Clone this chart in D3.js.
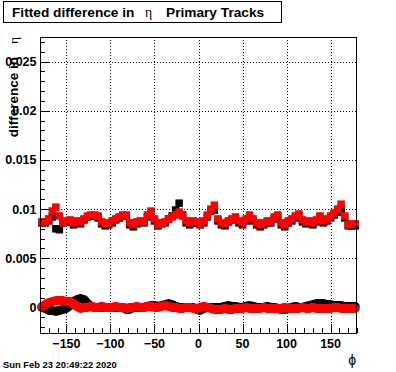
<!DOCTYPE html>
<html><head><meta charset="utf-8">
<script src="https://cdn.jsdelivr.net/npm/d3@7"></script>
<style>
body{margin:0;background:#fff;}
svg{display:block;}
text{font-family:"Liberation Sans",Arial,Helvetica,sans-serif;}
</style></head>
<body>
<script>
// ---- data ----
const xTicksMajor = [-150,-100,-50,0,50,100,150];
const xTickLabels = ["\u2212150","\u2212100","\u221250","0","50","100","150"];
const yTicksMajor = [0,0.005,0.01,0.015,0.02,0.025];
const yTickLabels = ["0","0.005","0.01","0.015","0.02","0.025"];
// bin centers (phi, degrees)
const phiBins = d3.range(90).map(i => -178 + 4*i);
// upper band (fitted difference), units of 1e-3
const redUpper = [8.7,8.7,9.0,9.8,10.2,9.3,8.6,8.8,8.9,8.6,8.8,8.7,9.0,9.3,9.4,9.4,9.3,8.7,8.5,8.6,
  8.8,9.0,9.2,9.4,9.4,8.6,8.4,8.7,8.8,8.7,9.4,9.8,9.0,8.4,8.6,8.7,9.0,9.2,9.4,9.7,
  9.3,8.8,8.6,8.8,8.7,8.5,8.8,9.4,10.0,10.4,9.0,8.6,8.5,8.8,9.0,9.2,8.8,8.6,9.0,9.4,
  9.0,8.6,8.4,8.6,8.8,8.7,9.2,9.4,8.6,8.4,8.8,9.0,9.3,9.5,8.9,8.7,8.8,8.6,8.9,9.3,
  8.8,9.0,9.3,9.6,10.0,10.5,9.3,8.4,8.5,8.5];
const blackUpper = [8.6,8.6,8.8,9.2,8.0,7.9,8.6,8.7,8.7,8.4,8.6,8.5,8.9,9.2,9.3,9.3,9.1,8.5,8.3,8.4,
  8.6,8.9,9.1,9.3,9.3,8.4,8.2,8.5,8.7,8.6,9.2,9.5,8.8,8.3,8.5,8.6,9.0,9.3,9.9,10.6,
  9.4,8.6,8.4,8.6,8.6,8.4,8.6,9.2,9.8,9.9,8.8,8.4,8.3,8.7,8.9,9.0,8.6,8.4,8.8,9.1,
  8.8,8.4,8.2,8.4,8.6,8.6,9.0,9.2,8.4,8.2,8.6,8.8,9.1,9.3,8.7,8.5,8.6,8.4,8.7,9.1,
  8.6,8.8,9.1,9.4,9.7,10.0,9.1,8.3,8.3,8.3];
// lower band, units of 1e-3
const redLower = [0.1,0.3,0.5,0.6,0.7,0.7,0.7,0.6,0.6,0.4,0.1,-0.1,0.0,0.0,0.1,0.0,0.0,0.1,0.0,0.0,
  0.0,0.1,0.0,0.0,-0.1,0.0,0.0,0.1,0.0,0.0,0.1,0.1,0.0,0.0,0.1,0.2,0.1,0.0,0.0,-0.1,
  -0.1,0.0,0.0,-0.1,-0.1,0.0,0.1,0.0,-0.1,-0.2,-0.2,-0.2,-0.1,-0.2,-0.2,-0.1,-0.1,-0.1,0.0,-0.1,
  -0.1,-0.1,-0.1,0.0,-0.1,-0.1,-0.1,-0.1,-0.1,0.0,-0.1,-0.1,-0.1,-0.1,0.0,-0.1,-0.1,0.0,-0.1,-0.1,
  -0.1,-0.1,-0.1,0.0,0.0,-0.1,-0.1,-0.1,-0.1,-0.1];
const blackLower = [0.0,-0.1,-0.3,-0.3,-0.4,-0.3,-0.2,-0.1,0.2,0.6,0.8,0.9,0.8,0.4,0.1,0.0,0.0,0.0,0.0,0.0,
  0.0,0.0,0.0,0.0,-0.2,-0.2,0.0,0.0,0.0,0.0,0.1,0.2,0.2,0.1,0.2,0.3,0.4,0.3,0.1,0.0,
  0.0,0.0,0.0,0.0,-0.2,-0.3,-0.1,0.0,0.0,0.0,0.0,0.0,0.1,0.2,0.1,0.1,0.0,0.0,0.1,0.2,
  0.1,0.0,0.0,0.0,0.1,0.0,0.0,-0.1,-0.2,-0.2,-0.1,0.0,0.1,0.0,0.0,0.1,0.2,0.3,0.4,0.4,
  0.4,0.3,0.3,0.2,0.2,0.2,0.1,0.1,0.1,0.1];

// ---- layout ----
const W = 396, H = 372;
const L = 40, R = 357, T = 37, B = 333;
const svg = d3.select("body").append("svg").attr("width", W).attr("height", H);
const x = d3.scaleLinear().domain([-180,180]).range([L,R]);
const y = d3.scaleLinear().domain([-0.0026,0.0275]).range([B,T]);

// grid
const g = svg.append("g");
g.selectAll(".gx").data(xTicksMajor).join("line")
  .attr("x1", d=>Math.round(x(d))+0.5).attr("x2", d=>Math.round(x(d))+0.5)
  .attr("y1", T).attr("y2", B)
  .attr("stroke","#000").attr("stroke-width",1).attr("stroke-dasharray","1,2");
g.selectAll(".gy").data(yTicksMajor).join("line")
  .attr("y1", d=>Math.round(y(d))+0.5).attr("y2", d=>Math.round(y(d))+0.5)
  .attr("x1", L).attr("x2", R)
  .attr("stroke","#000").attr("stroke-width",1).attr("stroke-dasharray","1,2");

// data
function toPts(vals){ return phiBins.map((p,i)=>({p, v: vals[i]*1e-3})); }
const line = d3.line().x(d=>x(d.p)).y(d=>y(d.v)).curve(d3.curveLinear);
function band(vals, color){
  const pts = toPts(vals);
  svg.append("path").datum(pts).attr("d", line)
    .attr("fill","none").attr("stroke",color).attr("stroke-width",9)
    .attr("stroke-linejoin","round").attr("stroke-linecap","round");
}
function squares(vals, color){
  const s = 7.5;
  svg.append("g").selectAll("rect").data(toPts(vals)).join("rect")
    .attr("x", d=>x(d.p)-s/2).attr("y", d=>y(d.v)-s/2)
    .attr("width", s).attr("height", s).attr("fill", color);
}
band(blackLower, "#000");
band(redLower, "#ff0000");
squares(blackUpper, "#000");
squares(redUpper, "#ff0000");

// frame
svg.append("rect").attr("x",L+0.5).attr("y",T+0.5).attr("width",R-L-1).attr("height",B-T)
  .attr("fill","none").attr("stroke","#000").attr("stroke-width",1);

// ticks (inside)
const xMinor = d3.range(-180,181,10);
const yMinor = d3.range(-2,28,1).map(v=>v*1e-3);
svg.append("g").selectAll("line").data(xMinor).join("line")
  .attr("x1", d=>Math.round(x(d))+0.5).attr("x2", d=>Math.round(x(d))+0.5)
  .attr("y1", B).attr("y2", d=> xTicksMajor.includes(d) ? B-9 : B-5)
  .attr("stroke","#000");
svg.append("g").selectAll("line").data(yMinor).join("line")
  .attr("y1", d=>Math.round(y(d))+0.5).attr("y2", d=>Math.round(y(d))+0.5)
  .attr("x1", L).attr("x2", (d,i)=> (Math.round(d*1e3)%5===0) ? L+9 : L+5)
  .attr("stroke","#000");

// tick labels
svg.append("g").selectAll("text").data(xTicksMajor).join("text")
  .attr("x", d=>x(d)).attr("y", 348).attr("text-anchor","middle")
  .attr("font-size","12.5px").attr("font-weight","bold")
  .text((d,i)=>xTickLabels[i]);
svg.append("g").selectAll("text").data(yTicksMajor).join("text")
  .attr("x", 36.5).attr("y", d=>y(d)+4.5).attr("text-anchor","end")
  .attr("font-size","12.5px").attr("font-weight","bold")
  .text((d,i)=>yTickLabels[i]);

// title box
svg.append("rect").attr("x",3.5).attr("y",1.5).attr("width",278).attr("height",21)
  .attr("fill","#fff").attr("stroke","#000");
const tt = svg.append("text").attr("y",16.5).attr("font-size","13.7px").attr("font-weight","bold");
tt.append("tspan").attr("x",12).text("Fitted difference in");
tt.append("tspan").attr("x",145).attr("font-family","'Liberation Serif','DejaVu Serif',serif").attr("font-weight","normal").text("\u03B7");
tt.append("tspan").attr("x",166).text("Primary Tracks");

// y axis title
const yt = svg.append("text").attr("transform","translate(18,0) rotate(-90)")
  .attr("font-size","13.5px");
yt.append("tspan").attr("x",-57).attr("text-anchor","end").attr("font-weight","bold").text("difference in");
yt.append("tspan").attr("x",-37).attr("text-anchor","end")
  .attr("font-family","'Liberation Serif','DejaVu Serif',serif").attr("font-weight","normal").text("\u03B7");

// x axis title
svg.append("text").attr("x",356).attr("y",365).attr("text-anchor","end")
  .attr("font-family","'Liberation Serif','DejaVu Serif',serif").attr("font-size","14px").text("\u03D5");

// date
svg.append("text").attr("x",3).attr("y",368).attr("font-size","9.4px").attr("font-weight","bold")
  .text("Sun Feb 23 20:49:22 2020");
</script>
</body></html>
